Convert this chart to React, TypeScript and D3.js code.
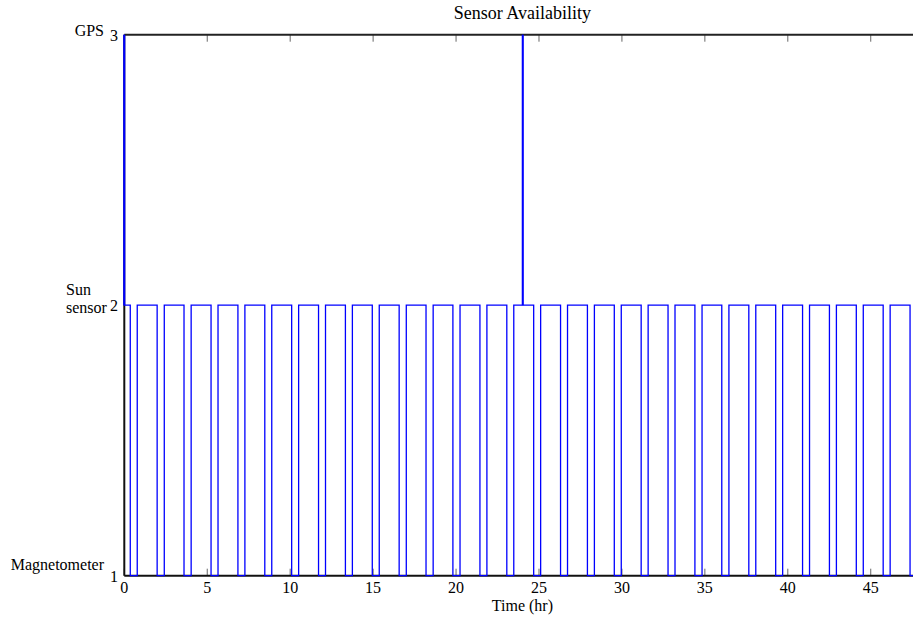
import React from "react";
import * as d3 from "d3";

// eclipse windows (hr): sun sensor drops to magnetometer only
const eclipseStart = [
  0.36, 1.98, 3.6, 5.23, 6.85, 8.47, 10.09, 11.71, 13.33, 14.95,
  16.57, 18.19, 19.81, 21.44, 23.06, 24.68, 26.3, 27.92, 29.54, 31.16,
  32.78, 34.4, 36.02, 37.65, 39.27, 40.89, 42.51, 44.13, 45.75, 47.37,
];
const eclipseEnd = [
  0.78, 2.41, 4.03, 5.65, 7.27, 8.89, 10.51, 12.13, 13.75, 15.37,
  17.0, 18.62, 20.24, 21.86, 23.48, 25.1, 26.72, 28.34, 29.96, 31.58,
  33.2, 34.83, 36.45, 38.07, 39.69, 41.31, 42.93, 44.55, 46.17, 47.79,
];
// times when GPS fix is available
const gpsTimes = [0, 24.02];
const endTime = 48;

const xTicks = [0, 5, 10, 15, 20, 25, 30, 35, 40, 45];
const yTicks = [1, 2, 3];
const sensorNames = [
  { v: 3, lines: ["GPS"] },
  { v: 2, lines: ["Sun", "sensor"] },
  { v: 1, lines: ["Magnetometer"] },
];

const W = 913;
const H = 620;
const font = "'Liberation Serif', 'Times New Roman', serif";

export default function App() {
  const x = d3.scaleLinear().domain([0, endTime]).range([124.3, 920.5]);
  const y = d3.scaleLinear().domain([1, 3]).range([575.7, 34.7]);

  // build the step signal
  const pts: [number, number][] = [];
  pts.push([gpsTimes[0], 3]);
  pts.push([gpsTimes[0], 2]);
  eclipseStart.forEach((s, i) => {
    const e = eclipseEnd[i];
    gpsTimes.slice(1).forEach((g) => {
      const prevEnd = i > 0 ? eclipseEnd[i - 1] : 0;
      if (g > prevEnd && g < s) {
        pts.push([g, 2], [g, 3], [g, 2]);
      }
    });
    pts.push([s, 2], [s, 1], [e, 1], [e, 2]);
  });
  pts.push([endTime, 2]);

  const line = d3
    .line<[number, number]>()
    .x((d) => x(d[0]))
    .y((d) => y(d[1]));

  const x0 = x(0);
  const x1 = x(endTime);
  const yTop = y(3);
  const yBot = y(1);
  const cx = (x0 + x1) / 2;

  return (
    <div style={{ position: "absolute", left: 0, top: 0 }}>
      <svg width={W} height={H} style={{ display: "block", background: "#fff" }}>
        <rect width={W} height={H} fill="#fff" />
        {/* ticks */}
        {xTicks.map((t) => (
          <g key={"xt" + t}>
            <line x1={x(t)} x2={x(t)} y1={yBot} y2={yBot - 7} stroke="#666" strokeWidth={1} />
            <line x1={x(t)} x2={x(t)} y1={yTop} y2={yTop + 7} stroke="#666" strokeWidth={1} />
            <text
              x={x(t)}
              y={593}
              textAnchor="middle"
              fontFamily={font}
              fontSize={16}
              fill="#000"
            >
              {t}
            </text>
          </g>
        ))}
        {yTicks.map((t) => (
          <text
            key={"yt" + t}
            x={118}
            y={y(t) + 6}
            textAnchor="end"
            fontFamily={font}
            fontSize={16}
            fill="#000"
          >
            {t}
          </text>
        ))}
        {sensorNames.map((s) => {
          if (s.lines.length === 1) {
            return (
              <text
                key={s.v}
                x={104}
                y={y(s.v) - (s.v === 1 ? 6 : -1)}
                textAnchor="end"
                fontFamily={font}
                fontSize={16}
                fill="#000"
              >
                {s.lines[0]}
              </text>
            );
          }
          return (
            <text key={s.v} fontFamily={font} fontSize={16} fill="#000">
              <tspan x={66} y={y(s.v) - 10}>
                {s.lines[0]}
              </tspan>
              <tspan x={66} y={y(s.v) + 8}>
                {s.lines[1]}
              </tspan>
            </text>
          );
        })}
        {/* axes box */}
        <line x1={x0} x2={x1} y1={yTop} y2={yTop} stroke="#222" strokeWidth={2} />
        <line x1={x0} x2={x1} y1={yBot} y2={yBot} stroke="#111" strokeWidth={2} />
        <line x1={x0} x2={x0} y1={yTop} y2={yBot} stroke="#111" strokeWidth={2} />
        <line x1={x1} x2={x1} y1={yTop} y2={yBot} stroke="#111" strokeWidth={2} />
        {/* signal */}
        <path d={line(pts) || ""} fill="none" stroke="#0000ff" strokeWidth={1.3} />
        {gpsTimes.map((g) => (
          <line
            key={"g" + g}
            x1={x(g)}
            x2={x(g)}
            y1={y(3)}
            y2={y(2)}
            stroke="#0000ff"
            strokeWidth={2}
          />
        ))}
        <text x={cx} y={19} textAnchor="middle" fontFamily={font} fontSize={18} fill="#000">
          Sensor Availability
        </text>
        <text x={cx} y={611} textAnchor="middle" fontFamily={font} fontSize={16} fill="#000">
          Time (hr)
        </text>
      </svg>
    </div>
  );
}
